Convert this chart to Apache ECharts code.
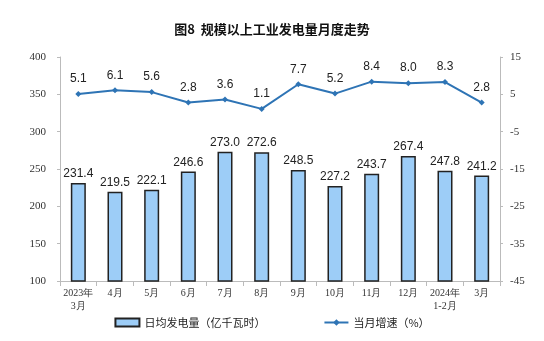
<!DOCTYPE html>
<html><head><meta charset="utf-8">
<script src="https://cdn.jsdelivr.net/npm/echarts@6/dist/echarts.min.js"></script>
<style>html,body{margin:0;padding:0;background:#fff}#c{width:544px;height:341px}</style>
</head><body><div id="c"></div>
<script>
const categories = ['2023年\n3月','4月','5月','6月','7月','8月','9月','10月','11月','12月','2024年\n1-2月','3月'];
const dailyOutput = [231.4,219.5,222.1,246.6,273.0,272.6,248.5,227.2,243.7,267.4,247.8,241.2];
const growth = [5.1,6.1,5.6,2.8,3.6,1.1,7.7,5.2,8.4,8.0,8.3,2.8];
const leftTicks = {min:100,max:400,interval:50};
const rightTicks = {min:-45,max:15,interval:10};

const chart = echarts.init(document.getElementById('c'));
const serif = '"Liberation Serif","DejaVu Serif",serif';
const cjk = '"Noto Sans CJK SC","Liberation Sans",sans-serif';
chart.setOption({
  animation:false,
  title:{text:'图8  规模以上工业发电量月度走势',left:'center',top:18,
    textStyle:{fontFamily:cjk,fontSize:13,fontWeight:'bold',color:'#111'}},
  grid:{left:60,right:44,top:57,bottom:60},
  legend:{bottom:8,left:'center',itemGap:58,itemWidth:24,itemHeight:8,
    textStyle:{fontFamily:cjk,fontSize:11,color:'#222'},
    data:[{name:'日均发电量（亿千瓦时）',icon:'rect'},{name:'当月增速（%）'}]},
  xAxis:{type:'category',data:categories,
    axisLine:{onZero:false,lineStyle:{color:'#bbb'}},axisTick:{show:true,lineStyle:{color:'#bbb'}},
    axisLabel:{fontFamily:serif,fontSize:10,color:'#333',interval:0,lineHeight:13,margin:6}},
  yAxis:[
    {type:'value',min:leftTicks.min,max:leftTicks.max,interval:leftTicks.interval,
     axisLine:{show:true,lineStyle:{color:'#bbb'}},axisTick:{show:true,length:3,lineStyle:{color:'#bbb'}},
     splitLine:{show:false},axisLabel:{fontFamily:serif,fontSize:11,color:'#333',margin:14}},
    {type:'value',min:rightTicks.min,max:rightTicks.max,interval:rightTicks.interval,
     axisLine:{show:true,lineStyle:{color:'#bbb'}},axisTick:{show:true,length:3,lineStyle:{color:'#bbb'}},
     splitLine:{show:false},axisLabel:{fontFamily:serif,fontSize:11,color:'#333',margin:10}}
  ],
  series:[
    {name:'日均发电量（亿千瓦时）',type:'bar',data:dailyOutput,barWidth:15,
     itemStyle:{color:'#9dcdf7',borderColor:'#222',borderWidth:1.5},
     label:{show:true,position:'top',distance:3,fontFamily:'"Liberation Sans",Arial,sans-serif',fontSize:12,color:'#222',
       formatter:p=>p.value.toFixed(1)}},
    {name:'当月增速（%）',type:'line',yAxisIndex:1,data:growth,
     symbol:'diamond',symbolSize:6,
     lineStyle:{color:'#2e74b5',width:2},itemStyle:{color:'#2e74b5'},
     label:{show:true,position:'top',distance:6,fontFamily:'"Liberation Sans",Arial,sans-serif',fontSize:12,color:'#222',
       formatter:p=>p.value.toFixed(1)}}
  ]
});
</script></body></html>
